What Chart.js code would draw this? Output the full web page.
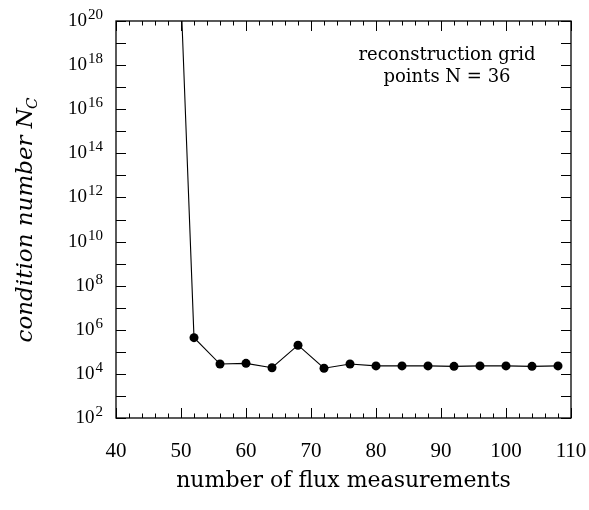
<!DOCTYPE html>
<html>
<head>
<meta charset="utf-8">
<script src="https://cdn.jsdelivr.net/npm/chart.js@4.4.0/dist/chart.umd.min.js"></script>
<style>
  html, body { margin: 0; padding: 0; background: #fff; }
  #wrap { width: 589px; height: 510px; }
</style>
</head>
<body>
<div id="wrap"><canvas id="chart"></canvas></div>
<script>
// values
const fluxCounts = [50, 52, 56, 60, 64, 68, 72, 76, 80, 84, 88, 92, 96, 100, 104, 108];
const condNumbers = [1.3e21, 4.4e5, 2.8e4, 3.0e4, 1.9e4, 2.0e5, 1.8e4, 2.8e4, 2.3e4, 2.3e4, 2.3e4, 2.2e4, 2.3e4, 2.3e4, 2.2e4, 2.3e4];
const pointSizes = [0, 4.5, 4.5, 4.5, 4.5, 4.5, 4.5, 4.5, 4.5, 4.5, 4.5, 4.5, 4.5, 4.5, 4.5, 4.5];
const yLabelExponents = [2, 4, 6, 8, 10, 12, 14, 16, 18, 20];
const noteLines = ['reconstruction grid', 'points N = 36'];

// frame, inward ticks, y labels, y title and note
const framePlugin = {
    id: 'frame',
    afterDatasetsDraw(chart) {
        const ctx = chart.ctx;
        const area = chart.chartArea;
        const x = chart.scales.x;
        const y = chart.scales.y;
        ctx.save();
        ctx.strokeStyle = '#000';
        ctx.lineWidth = 1.3;
        ctx.strokeRect(area.left, area.top, area.right - area.left, area.bottom - area.top);

        ctx.lineWidth = 1;
        ctx.beginPath();
        // x ticks every 2, long at every 10
        for (let v = 40; v <= 110; v += 2) {
            const px = Math.round(x.getPixelForValue(v)) + 0.5;
            const len = v % 10 === 0 ? 10 : 4.5;
            ctx.moveTo(px, area.bottom);
            ctx.lineTo(px, area.bottom - len);
            ctx.moveTo(px, area.top);
            ctx.lineTo(px, area.top + len);
        }
        // y ticks every decade
        for (let e = 2; e <= 20; e++) {
            const py = Math.round(y.getPixelForValue(Math.pow(10, e))) + 0.5;
            ctx.moveTo(area.left, py);
            ctx.lineTo(area.left + 10, py);
            ctx.moveTo(area.right, py);
            ctx.lineTo(area.right - 10, py);
        }
        ctx.stroke();

        // y tick labels as 10 with raised exponent
        ctx.fillStyle = '#000';
        ctx.textBaseline = 'alphabetic';
        ctx.textAlign = 'left';
        yLabelExponents.forEach(e => {
            const py = y.getPixelForValue(Math.pow(10, e));
            ctx.font = '15px "Liberation Serif"';
            const expW = ctx.measureText(String(e)).width;
            ctx.font = '19px "Liberation Serif"';
            const baseW = ctx.measureText('10').width;
            const right = 103;
            ctx.fillText('10', right - expW - baseW - 1, py + 5);
            ctx.font = '15px "Liberation Serif"';
            ctx.fillText(String(e), right - expW, py - 2);
        });

        // y axis title
        ctx.save();
        ctx.translate(24, (area.top + area.bottom) / 2);
        ctx.rotate(-Math.PI / 2);
        const mainFont = 'italic 23px "DejaVu Serif"';
        const subFont = 'italic 15px "DejaVu Serif"';
        ctx.font = mainFont;
        const w1 = ctx.measureText('condition number ').width;
        const w2 = ctx.measureText('N').width;
        ctx.font = subFont;
        const w3 = ctx.measureText('C').width;
        let sx = -(w1 + w2 + w3) / 2;
        ctx.font = mainFont;
        ctx.fillText('condition number ', sx, 8);
        ctx.fillText('N', sx + w1, 8);
        ctx.font = subFont;
        ctx.fillText('C', sx + w1 + w2 - 1, 13);
        ctx.restore();

        // note in the upper right
        ctx.font = '18px "DejaVu Serif"';
        ctx.textAlign = 'center';
        ctx.fillText(noteLines[0], 447, 60);
        ctx.fillText(noteLines[1], 447, 82);
        ctx.restore();
    }
};

const ctx = document.getElementById('chart').getContext('2d');
new Chart(ctx, {
    type: 'line',
    data: {
        datasets: [{
            data: fluxCounts.map((f, i) => ({ x: f, y: condNumbers[i] })),
            borderColor: '#000',
            borderWidth: 1.1,
            pointRadius: pointSizes,
            pointBackgroundColor: '#000',
            pointBorderWidth: 0,
            tension: 0,
            clip: 0
        }]
    },
    options: {
        responsive: true,
        maintainAspectRatio: false,
        animation: false,
        layout: { padding: { left: 0, right: 18, top: 21, bottom: 0 } },
        plugins: {
            legend: { display: false },
            tooltip: { enabled: false }
        },
        scales: {
            x: {
                type: 'linear',
                min: 40,
                max: 110,
                grid: { display: false, drawTicks: false },
                border: { display: false },
                ticks: {
                    stepSize: 10,
                    padding: 21,
                    color: '#000',
                    font: { family: 'Liberation Serif', size: 21 }
                },
                title: {
                    display: true,
                    text: 'number of flux measurements',
                    color: '#000',
                    font: { family: 'DejaVu Serif', size: 22 },
                    padding: { top: 0, bottom: 16 }
                },
                afterFit(scale) {
                    scale.height = 92;
                    scale.paddingLeft = 0;
                    scale.paddingRight = 0;
                }
            },
            y: {
                type: 'logarithmic',
                min: 1e2,
                max: 1e20,
                grid: { display: false, drawTicks: false },
                border: { display: false },
                ticks: { display: false },
                afterFit(scale) { scale.width = 116; }
            }
        }
    },
    plugins: [framePlugin]
});
</script>
</body>
</html>
